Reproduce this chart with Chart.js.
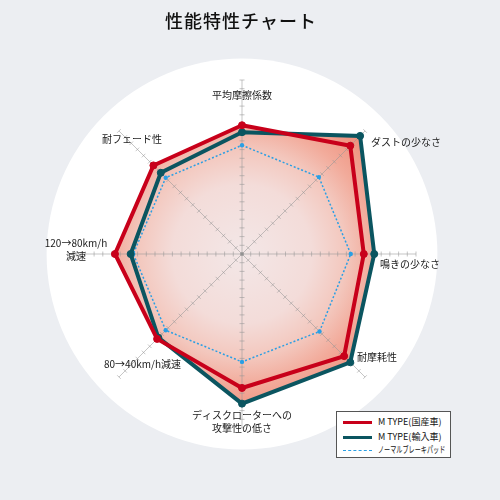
<!DOCTYPE html>
<html><head><meta charset="utf-8">
<script src="https://cdn.jsdelivr.net/npm/chart.js@4/dist/chart.umd.min.js"></script>
<style>
html,body{margin:0;padding:0;background:#eceef2;}
#wrap{position:relative;width:500px;height:500px;overflow:hidden;font-family:"Noto Sans CJK JP","Noto Sans",sans-serif;}
#c{position:absolute;left:0;top:0;}
#title{position:absolute;left:0;width:482px;top:8px;line-height:24px;text-align:center;font-size:18px;font-weight:500;color:#111;letter-spacing:1px;}
#legend{position:absolute;left:336px;top:411px;width:113px;height:45px;border:1px solid #555;background:#fff;}
.row{position:absolute;left:0;height:12px;width:113px;}
.ln{position:absolute;left:6px;width:29px;}
.tx{position:absolute;left:41px;top:0;line-height:12px;font-size:9px;color:#111;white-space:nowrap;transform-origin:0 50%;}
</style></head>
<body><div id="wrap">
<canvas id="c" width="500" height="500"></canvas>
<div id="title">性能特性チャート</div>
<div id="legend"></div>
</div>
<script>
const axisLabels = [
  '平均摩擦係数',
  'ダストの少なさ',
  '鳴きの少なさ',
  '耐摩耗性',
  ['ディスクローターへの','攻撃性の低さ'],
  '80→40km/h減速',
  ['120→80km/h','減速'],
  '耐フェード性'
];
const seriesNames = ['M TYPE(国産車)', 'M TYPE(輸入車)', 'ノーマルブレーキパッド'];
const domesticValues = [7.4, 8.8, 7.0, 8.3, 7.7, 6.9, 7.3, 7.2];
const importValues   = [7.0, 9.6, 7.6, 8.8, 8.6, 6.8, 6.4, 6.6];
const normalValues   = [6.25, 6.25, 6.25, 6.3, 6.2, 6.2, 6.25, 6.2];
const scaleMin = 0;
const scaleMax = 10;
const tickStep = 0.5;

const RED = '#c8001a', TEAL = '#0b5560', BLUE = '#2a9fe4';

function fillGrad(ctx){
  const chart = ctx.chart; const s = chart.scales && chart.scales.r;
  if(!s || !s.drawingArea) return 'rgba(240,160,140,1)';
  const g = chart.ctx.createRadialGradient(s.xCenter, s.yCenter, 0, s.xCenter, s.yCenter, s.drawingArea);
  g.addColorStop(0, '#f3e7e7');
  g.addColorStop(0.4, '#f3dcd9');
  g.addColorStop(0.6, '#f3c7bd');
  g.addColorStop(0.75, '#f2ab9b');
  g.addColorStop(0.9, '#ef9683');
  g.addColorStop(1, '#ec8a76');
  return g;
}

// label offsets relative to each axis end point (library-computed)
const labelPlace = [
  {dx:0, dy:15, align:'center'},
  {dx:6, dy:11, align:'left'},
  {dx:-36, dy:10, align:'left'},
  {dx:-8, dy:-20, align:'left'},
  {dx:0, dy:-13, align:'center'},
  {dx:62, dy:-13, align:'right'},
  {dx:8, dy:-11, align:'center'},
  {dx:13, dy:8, align:'center'}
];

const deco = {
  id:'deco',
  beforeDraw(chart){
    const s = chart.scales.r, c = chart.ctx;
    c.save();
    c.fillStyle = '#ffffff';
    c.beginPath();
    c.arc(s.xCenter, s.yCenter, s.drawingArea*1.123, 0, Math.PI*2);
    c.fill();
    c.restore();
  },
  beforeDatasetsDraw(chart){
    const s = chart.scales.r, c = chart.ctx;
    const n = chart.data.labels.length;
    c.save();
    c.strokeStyle = 'rgba(150,150,150,0.55)';
    c.lineWidth = 1;
    for(let i=0;i<n;i++){
      const end = s.getPointPosition(i, s.getDistanceFromCenterForValue(scaleMax));
      c.beginPath(); c.moveTo(s.xCenter, s.yCenter); c.lineTo(end.x, end.y); c.stroke();
      const a = s.getIndexAngle(i) - Math.PI/2;
      const px = -Math.sin(a), py = Math.cos(a);
      for(let v=scaleMin+tickStep; v<=scaleMax+1e-9; v+=tickStep){
        const p = s.getPointPosition(i, s.getDistanceFromCenterForValue(v));
        const L = 2.5;
        c.beginPath(); c.moveTo(p.x - px*L, p.y - py*L); c.lineTo(p.x + px*L, p.y + py*L); c.stroke();
      }
    }
    c.fillStyle = 'rgba(140,140,140,0.8)';
    c.beginPath(); c.arc(s.xCenter, s.yCenter, 2, 0, Math.PI*2); c.fill();
    c.restore();
  },
  afterDatasetsDraw(chart){
    const s = chart.scales.r, c = chart.ctx;
    c.save();
    c.fillStyle = '#1a1a1a';
    c.font = '10px "Noto Sans CJK JP"';
    c.textBaseline = 'middle';
    chart.data.labels.forEach((lab, i) => {
      const end = s.getPointPosition(i, s.getDistanceFromCenterForValue(scaleMax));
      const pl = labelPlace[i];
      c.textAlign = pl.align;
      const lines = Array.isArray(lab) ? lab : [lab];
      lines.forEach((t, k) => c.fillText(t, end.x + pl.dx, end.y + pl.dy + k*13));
    });
    c.restore();
  }
};

new Chart(document.getElementById('c'), {
  type:'radar',
  data:{
    labels: axisLabels,
    datasets:[
      {label:seriesNames[0], data:domesticValues, borderColor:RED, borderWidth:4, fill:true, backgroundColor:fillGrad,
       pointRadius:3.5, pointBackgroundColor:RED, pointBorderColor:RED, pointBorderWidth:1, order:0},
      {label:seriesNames[1], data:importValues, borderColor:TEAL, borderWidth:4, fill:true, backgroundColor:fillGrad,
       pointRadius:3.5, pointBackgroundColor:TEAL, pointBorderColor:TEAL, pointBorderWidth:1, order:1},
      {label:seriesNames[2], data:normalValues, borderColor:BLUE, borderWidth:1.5, borderDash:[2,2], fill:false,
       pointRadius:2.2, pointBackgroundColor:BLUE, pointBorderColor:BLUE, pointBorderWidth:0, order:2}
    ]
  },
  options:{
    responsive:false, animation:false, devicePixelRatio:1,
    layout:{padding:{left:68, right:84, top:80, bottom:72}},
    elements:{line:{tension:0, borderJoinStyle:'miter'}},
    plugins:{legend:{display:false}, title:{display:false}, tooltip:{enabled:false}, filler:{drawTime:'beforeDatasetsDraw'}},
    scales:{r:{min:scaleMin, max:scaleMax, ticks:{display:false, stepSize:tickStep},
      grid:{display:false}, angleLines:{display:false}, pointLabels:{display:false}}}
  },
  plugins:[deco]
});

// legend
const lg = document.getElementById('legend');
const styles = [
  {top:4, line:'border-top:3px solid '+RED, lt:5, k:1},
  {top:19, line:'border-top:3px solid '+TEAL, lt:5, k:1},
  {top:32, line:'border-top:1px dashed '+BLUE, lt:6, k:0.68}
];
seriesNames.forEach((nm, i) => {
  const st = styles[i];
  const r = document.createElement('div'); r.className='row'; r.style.top = st.top+'px';
  const l = document.createElement('span'); l.className='ln'; l.style.cssText = st.line+';top:'+st.lt+'px;';
  const t = document.createElement('span'); t.className='tx'; t.textContent = nm; t.style.transform='scaleX('+st.k+')';
  r.appendChild(l); r.appendChild(t); lg.appendChild(r);
});
</script>
</body></html>
